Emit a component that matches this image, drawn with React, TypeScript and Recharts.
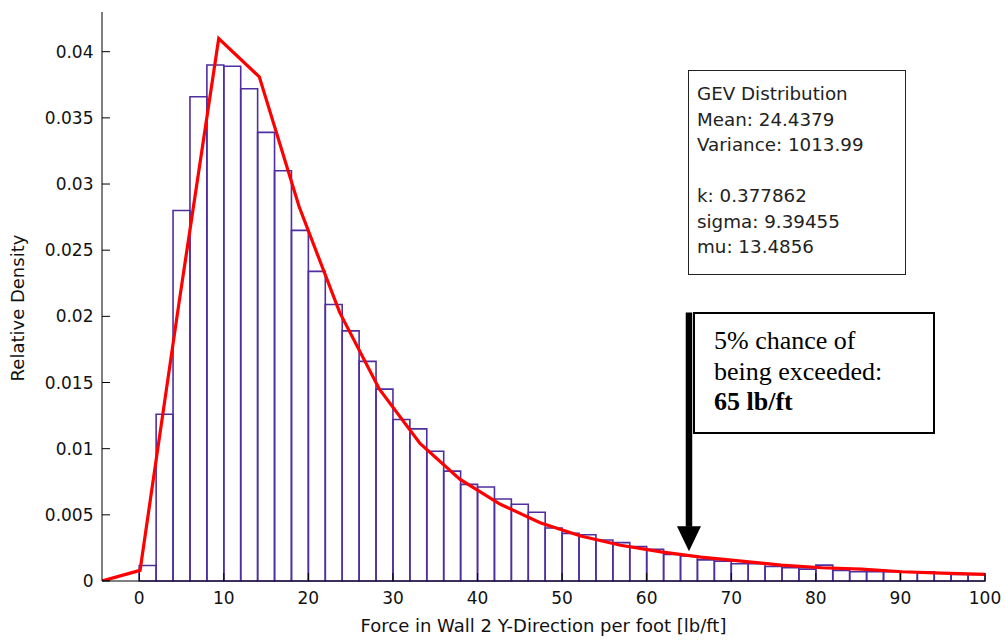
import React from "react";
import {
  ComposedChart,
  Line,
  XAxis,
  YAxis,
  ReferenceArea,
  ReferenceLine,
  ReferenceDot,
  Label,
} from "recharts";

// histogram bins (left edge, width 2)
const binLeft = [
  0, 2, 4, 6, 8, 10, 12, 14, 16, 18, 20, 22, 24, 26, 28, 30, 32, 34, 36, 38,
  40, 42, 44, 46, 48, 50, 52, 54, 56, 58, 60, 62, 64, 66, 68, 70, 72, 74, 76,
  78, 80, 82, 84, 86, 88, 90, 92, 94, 96, 98,
];
const binWidth = 2;
const density = [
  0.00117, 0.0126, 0.028, 0.0366, 0.039, 0.0389, 0.0372, 0.0339, 0.031,
  0.0265, 0.0234, 0.0209, 0.0189, 0.0166, 0.0145, 0.0122, 0.0115, 0.0098,
  0.0083, 0.0073, 0.0071, 0.0062, 0.0058, 0.0052, 0.004, 0.0036, 0.0035,
  0.0031, 0.0029, 0.0026, 0.0024, 0.002, 0.0019, 0.0016, 0.0015, 0.0013,
  0.0013, 0.0011, 0.001, 0.0009, 0.0012, 0.0008, 0.0007, 0.0007, 0.0007,
  0.0007, 0.0007, 0.0006, 0.0005, 0.0005,
];

// fitted GEV curve
const fitX = [
  -4.4, 0.1, 4.7, 9.4, 14.2, 18.9, 23.7, 28.4, 33.2, 37.9, 42.7, 47.4, 52.2,
  56.9, 61.7, 66.4, 71.2, 75.9, 80.7, 85.4, 90.2, 94.9, 100,
];
const fitY = [
  0.0, 0.0008, 0.021, 0.041, 0.0381, 0.0283, 0.0203, 0.0145, 0.0104, 0.0077,
  0.0058, 0.0044, 0.0034, 0.0027, 0.0022, 0.0018, 0.0015, 0.0012, 0.001,
  0.0009, 0.0007, 0.0006, 0.0005,
];

const xTicks = [0, 10, 20, 30, 40, 50, 60, 70, 80, 90, 100];
const yTicks = [0, 0.005, 0.01, 0.015, 0.02, 0.025, 0.03, 0.035, 0.04];

const statsLines = [
  "GEV Distribution",
  "Mean: 24.4379",
  "Variance: 1013.99",
  "",
  "k: 0.377862",
  "sigma: 9.39455",
  "mu: 13.4856",
];

const exceedValue = 65;

const fitData = fitX.map((x, i) => ({ x, y: fitY[i] }));

const tickFont = { fill: "#111", fontSize: 17, fontFamily: "DejaVu Sans" };
const barColor = "#4f2f9f";

const ArrowHead = (props: any) => {
  const { cx, cy } = props;
  return (
    <polygon
      points={`${cx - 12},${cy - 12.5} ${cx + 12},${cy - 12.5} ${cx},${cy + 12.5}`}
      fill="#000"
    />
  );
};

const YTitle = (props: any) => {
  const vb = props.viewBox;
  const x = vb.x - 18;
  const y = vb.y + vb.height / 2 + 11.5;
  return (
    <text
      x={x}
      y={y}
      transform={`rotate(-90 ${x} ${y})`}
      textAnchor="middle"
      fontSize={18}
      fontFamily="DejaVu Sans"
      fill="#111"
    >
      Relative Density
    </text>
  );
};

export default function App() {
  return (
    <div
      style={{
        position: "absolute",
        left: 0,
        top: 0,
        width: 1005,
        height: 641,
        background: "#fff",
      }}
    >
      <ComposedChart
        width={1005}
        height={641}
        margin={{ top: 12, right: 20, bottom: 30, left: 42 }}
      >
        <XAxis
          type="number"
          dataKey="x"
          domain={[-4.4, 100]}
          allowDataOverflow
          ticks={xTicks}
          interval={0}
          tickSize={-8}
          tickMargin={19}
          height={30}
          stroke="#000"
          tick={tickFont}
        >
          <Label
            value="Force in Wall 2 Y-Direction per foot [lb/ft]"
            position="bottom"
            offset={8}
            fontSize={18}
            fontFamily="DejaVu Sans"
            fill="#111"
          />
        </XAxis>
        <XAxis
          xAxisId="top"
          orientation="top"
          type="number"
          domain={[-4.4, 100]}
          allowDataOverflow
          ticks={xTicks}
          interval={0}
          tickSize={-8}
          tick={false}
          height={0}
          stroke="#000"
        />
        <YAxis
          type="number"
          domain={[0, 0.043]}
          allowDataOverflow
          ticks={yTicks}
          interval={0}
          tickSize={-8}
          tickMargin={16.5}
          width={60}
          stroke="#000"
          tick={tickFont}
        >
          <Label content={YTitle} />
        </YAxis>
        <YAxis
          yAxisId="right"
          orientation="right"
          type="number"
          domain={[0, 0.043]}
          allowDataOverflow
          ticks={yTicks}
          interval={0}
          tickSize={-8}
          tick={false}
          width={0}
          stroke="#000"
        />
        {binLeft.map((lo, i) => (
          <ReferenceArea
            key={lo}
            x1={lo}
            x2={lo + binWidth}
            y1={0}
            y2={density[i]}
            fill="none"
            stroke={barColor}
            strokeWidth={1.6}
            strokeOpacity={1}
          />
        ))}
        <Line
          data={fitData}
          dataKey="y"
          type="linear"
          stroke="#ff0000"
          strokeWidth={3.2}
          dot={false}
          isAnimationActive={false}
        />
        <ReferenceLine
          segment={[
            { x: exceedValue, y: 0.0203 },
            { x: exceedValue, y: 0.0041 },
          ]}
          stroke="#000"
          strokeWidth={6.5}
        />
        <ReferenceDot
          x={exceedValue}
          y={0.0032}
          r={12}
          shape={ArrowHead}
        />
      </ComposedChart>

      <div
        style={{
          position: "absolute",
          left: 688,
          top: 70,
          width: 218,
          height: 205,
          boxSizing: "border-box",
          border: "1.5px solid #222",
          paddingTop: 10,
          paddingLeft: 8,
          fontFamily: "DejaVu Sans",
          fontSize: 18.3,
          lineHeight: "25.5px",
          color: "#222",
          whiteSpace: "pre",
        }}
      >
        {statsLines.map((s, i) => (
          <div key={i}>{s === "" ? "\u00a0" : s}</div>
        ))}
      </div>

      <div
        style={{
          position: "absolute",
          left: 693,
          top: 312,
          width: 242,
          height: 122,
          boxSizing: "border-box",
          border: "2px solid #000",
          background: "#fff",
          paddingTop: 12,
          paddingLeft: 19,
          fontFamily: "'Liberation Serif', 'Times New Roman', serif",
          fontSize: 26,
          lineHeight: "30.5px",
          color: "#000",
          whiteSpace: "pre",
        }}
      >
        <div>5% chance of</div>
        <div>being exceeded:</div>
        <div style={{ fontWeight: "bold" }}>{exceedValue} lb/ft</div>
      </div>
    </div>
  );
}
